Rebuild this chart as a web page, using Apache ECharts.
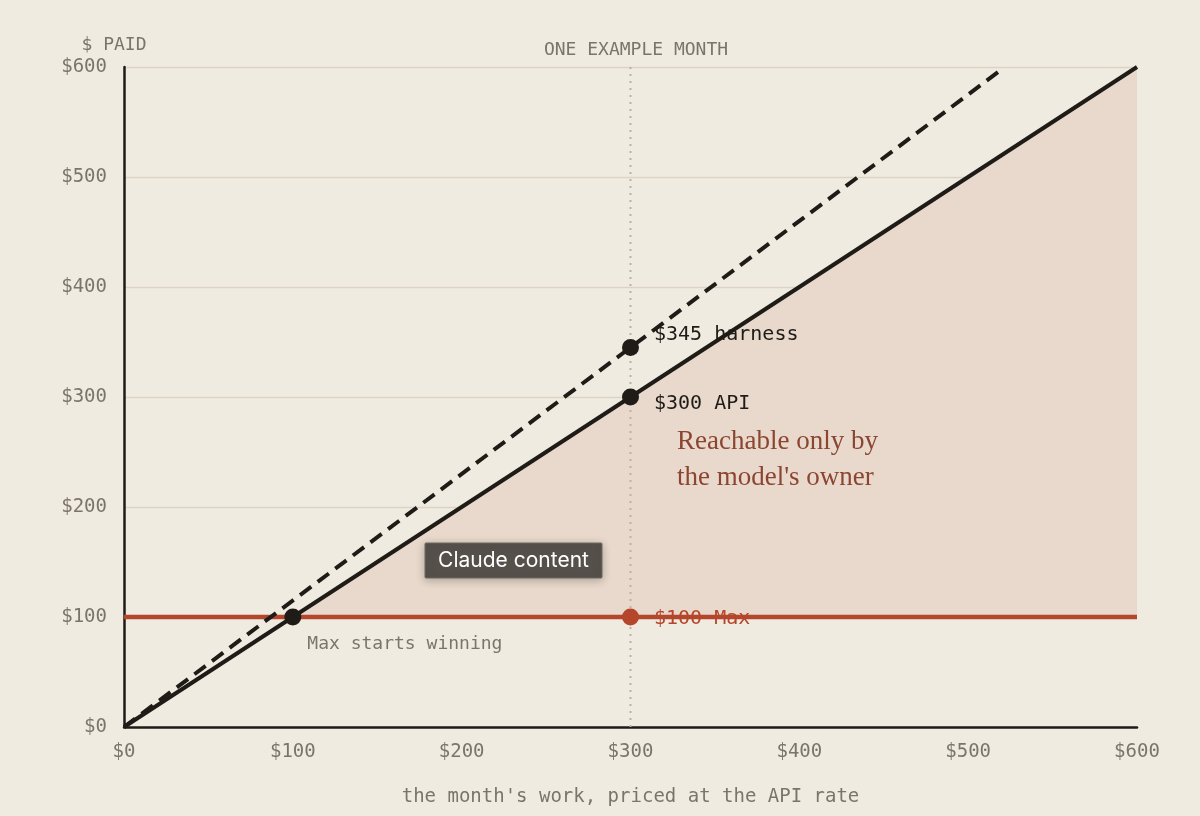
<!DOCTYPE html>
<html>
<head>
<meta charset="utf-8">
<script src="https://cdn.jsdelivr.net/npm/echarts@6/dist/echarts.min.js"></script>
<style>
html,body{margin:0;padding:0;background:#f0ebe1;}
#c{width:1200px;height:816px;}
</style>
</head>
<body>
<div id="c"></div>
<script>
// ---- data ----
const xTicks = [0, 100, 200, 300, 400, 500, 600];
const yTicks = [0, 100, 200, 300, 400, 500, 600];
const apiLine = [[0, 0], [600, 600]];
const harnessLine = [[0, 0], [520, 598]];
const maxLine = [[0, 100], [600, 100]];
const reachableArea = [[100, 100], [600, 600]];
const exampleMonthX = 300;
const blackPoints = [
  { value: [300, 345], label: '$345 harness' },
  { value: [300, 300], label: '$300 API' },
  { value: [100, 100], label: 'Max starts winning' }
];
const maxPoint = { value: [300, 100], label: '$100 Max' };
const titleText = 'ONE EXAMPLE MONTH';
const yName = '$ PAID';
const xName = "the month's work, priced at the API rate";
const regionText = "Reachable only by\nthe model's owner";
const overlayText = 'Claude content';

const MONO = "'DejaVu Sans Mono', 'Liberation Mono', monospace";
const INK = '#1f1c18';
const RUST = '#b4462b';
const GREY = '#7b746a';

const chart = echarts.init(document.getElementById('c'), null, { renderer: 'canvas' });

chart.setOption({
  backgroundColor: '#f0ebe1',
  animation: false,
  grid: { left: 124, right: 63, top: 67, bottom: 89 },
  title: {
    text: titleText,
    left: 631, top: 36, textAlign: 'center',
    textStyle: { fontFamily: MONO, fontSize: 18, fontWeight: 'normal', color: GREY }
  },
  xAxis: {
    type: 'value', min: 0, max: 600, interval: 100,
    name: xName, nameLocation: 'middle', nameGap: 61,
    nameTextStyle: { fontFamily: MONO, fontSize: 19, color: GREY },
    axisLine: { show: true, onZero: false, lineStyle: { color: INK, width: 2.5 } },
    axisTick: { show: false },
    splitLine: { show: false },
    axisLabel: {
      margin: 16, fontFamily: MONO, fontSize: 19, color: GREY,
      formatter: v => xTicks.includes(v) ? '$' + v : ''
    }
  },
  yAxis: {
    type: 'value', min: 0, max: 600, interval: 100,
    name: yName, nameLocation: 'end', nameGap: 13,
    nameTextStyle: { fontFamily: MONO, fontSize: 18, color: GREY, align: 'center', padding: [0, 20, 0, 0] },
    axisLine: { show: true, onZero: false, lineStyle: { color: INK, width: 2.5 } },
    axisTick: { show: false },
    splitLine: { show: true, lineStyle: { color: '#dcd3c6', width: 1.3 } },
    axisLabel: {
      margin: 17, fontFamily: MONO, fontSize: 19, color: GREY,
      formatter: v => yTicks.includes(v) ? '$' + v : ''
    }
  },
  series: [
    {
      name: 'reachable', type: 'line', data: reachableArea, symbol: 'none', silent: true,
      lineStyle: { width: 0, opacity: 0 },
      areaStyle: { color: '#e8d9cc', opacity: 1, origin: 100 },
      z: 1
    },
    {
      name: 'example month', type: 'line', symbol: 'none', silent: true,
      data: [[exampleMonthX, 0], [exampleMonthX, 600]],
      lineStyle: { color: '#b9b2a8', width: 2, type: [2, 5] },
      z: 2
    },
    {
      name: 'maxPoint', type: 'scatter', symbolSize: 17, z: 3,
      itemStyle: { color: RUST, opacity: 1 },
      data: [{
        value: maxPoint.value,
        label: {
          show: true, position: 'right', distance: 15, offset: [0, 2], formatter: maxPoint.label,
          fontFamily: MONO, fontSize: 20, color: RUST
        }
      }]
    },
    {
      name: 'Max', type: 'line', data: maxLine, symbol: 'none',
      lineStyle: { color: RUST, width: 4.5 }, z: 4
    },
    {
      name: 'harness', type: 'line', data: harnessLine, symbol: 'none',
      lineStyle: { color: INK, width: 4, type: [14, 8] }, z: 5
    },
    {
      name: 'API', type: 'line', data: apiLine, symbol: 'none',
      lineStyle: { color: INK, width: 4 }, z: 5
    },
    {
      name: 'points', type: 'scatter', symbolSize: 17, z: 7,
      itemStyle: { color: INK, opacity: 1 },
      data: [
        {
          value: blackPoints[0].value,
          label: { show: true, position: 'right', distance: 15, offset: [0, -13],
            formatter: blackPoints[0].label, fontFamily: MONO, fontSize: 20, color: INK, fontWeight: 500 }
        },
        {
          value: blackPoints[1].value,
          label: { show: true, position: 'right', distance: 15, offset: [0, 7],
            formatter: blackPoints[1].label, fontFamily: MONO, fontSize: 20, color: INK, fontWeight: 500 }
        },
        {
          value: blackPoints[2].value,
          label: { show: true, position: 'right', distance: 6, offset: [0, 27],
            formatter: blackPoints[2].label, fontFamily: MONO, fontSize: 18, color: GREY }
        }
      ]
    }
  ],
  graphic: [
    {
      type: 'text', left: 677, top: 424, z: 10,
      style: {
        text: regionText, fontFamily: "'Liberation Serif', 'DejaVu Serif', serif",
        fontSize: 27, lineHeight: 36, fill: '#8c4530'
      }
    },
    {
      type: 'rect', z: 20,
      shape: { x: 425, y: 543, width: 177, height: 35, r: 1 },
      style: { fill: '#56504b', stroke: '#6e6862', lineWidth: 1,
        shadowBlur: 8, shadowColor: 'rgba(0,0,0,0.25)', shadowOffsetY: 2 }
    },
    {
      type: 'text', z: 21, x: 513.5, y: 560.5,
      style: { text: overlayText, fontFamily: "Inter, 'Noto Sans', sans-serif", fontSize: 21,
        fill: '#ffffff', align: 'center', verticalAlign: 'middle' }
    }
  ]
});
</script>
</body>
</html>
